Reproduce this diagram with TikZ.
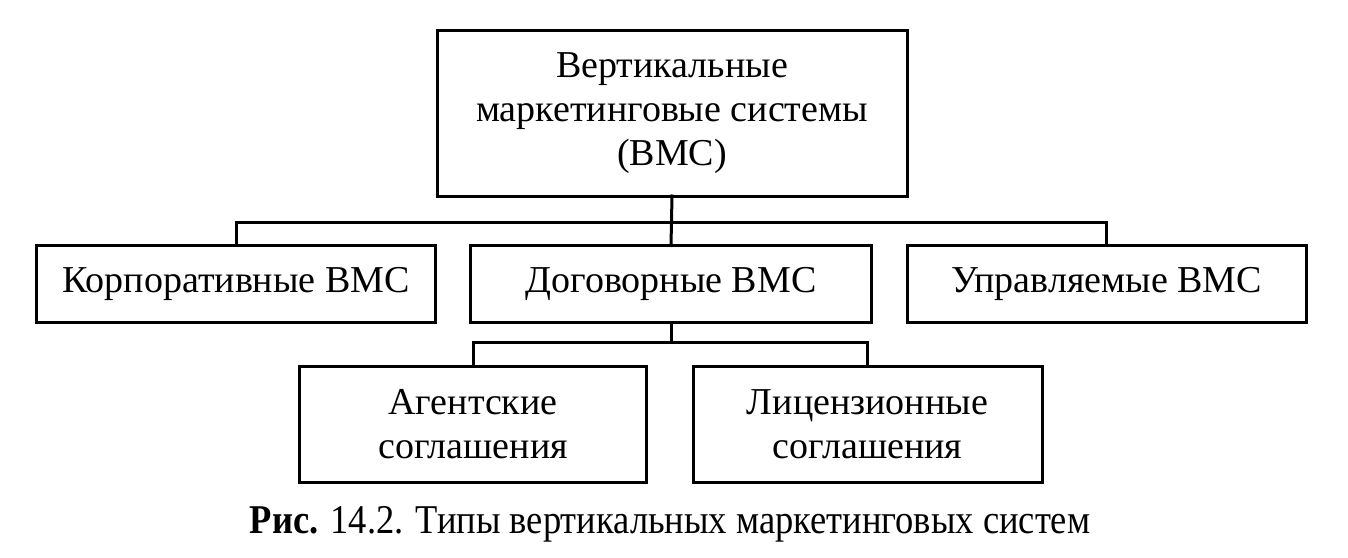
\documentclass[tikz,border=0pt]{standalone}
\usepackage{fontspec}
\setmainfont{Liberation Serif}
\begin{document}
\begin{tikzpicture}[x=1pt,y=-1pt,
  box/.style={draw=black,line width=3pt,rectangle,inner sep=0pt,outer sep=0pt,
    align=center,font=\fontsize{38}{44}\selectfont},
  conn/.style={draw=black,line width=3pt,line cap=rect}]
\useasboundingbox[fill=white] (0,0) rectangle (1348,557);
\node[box,minimum width=470pt,minimum height=166pt] (top) at (672,113)
  {Вертикальные\\маркетинговые системы\\(ВМС)};
\node[box,minimum width=399pt,minimum height=77pt] (L) at (236,284) {Корпоративные ВМС};
\node[box,minimum width=401pt,minimum height=77pt] (M) at (671,284) {Договорные ВМС};
\node[box,minimum width=399pt,minimum height=77pt] (R) at (1106.5,284) {Управляемые ВМС};
\node[box,minimum width=347pt,minimum height=116pt] (BL) at (473,424) {Агентские\\соглашения};
\node[box,minimum width=349pt,minimum height=116pt] (BR) at (867.5,424) {Лицензионные\\соглашения};
\coordinate (bus1) at (672,222.7);
\coordinate (bus2) at (671,342.7);
\draw[conn] (top.south) -- (M.north);
\draw[conn] (L.north) |- (bus1) -| (R.north);
\draw[conn] (M.south) -- (bus2);
\draw[conn] (BL.north) |- (bus2) -| (BR.north);
\node[anchor=base,inner sep=0pt,font=\fontsize{36.5}{40}\selectfont] (cap) at (670,533)
  {\scalebox{1}[1.12]{\textbf{Рис.} 14.2. Типы вертикальных маркетинговых систем}};
\end{tikzpicture}
\end{document}
